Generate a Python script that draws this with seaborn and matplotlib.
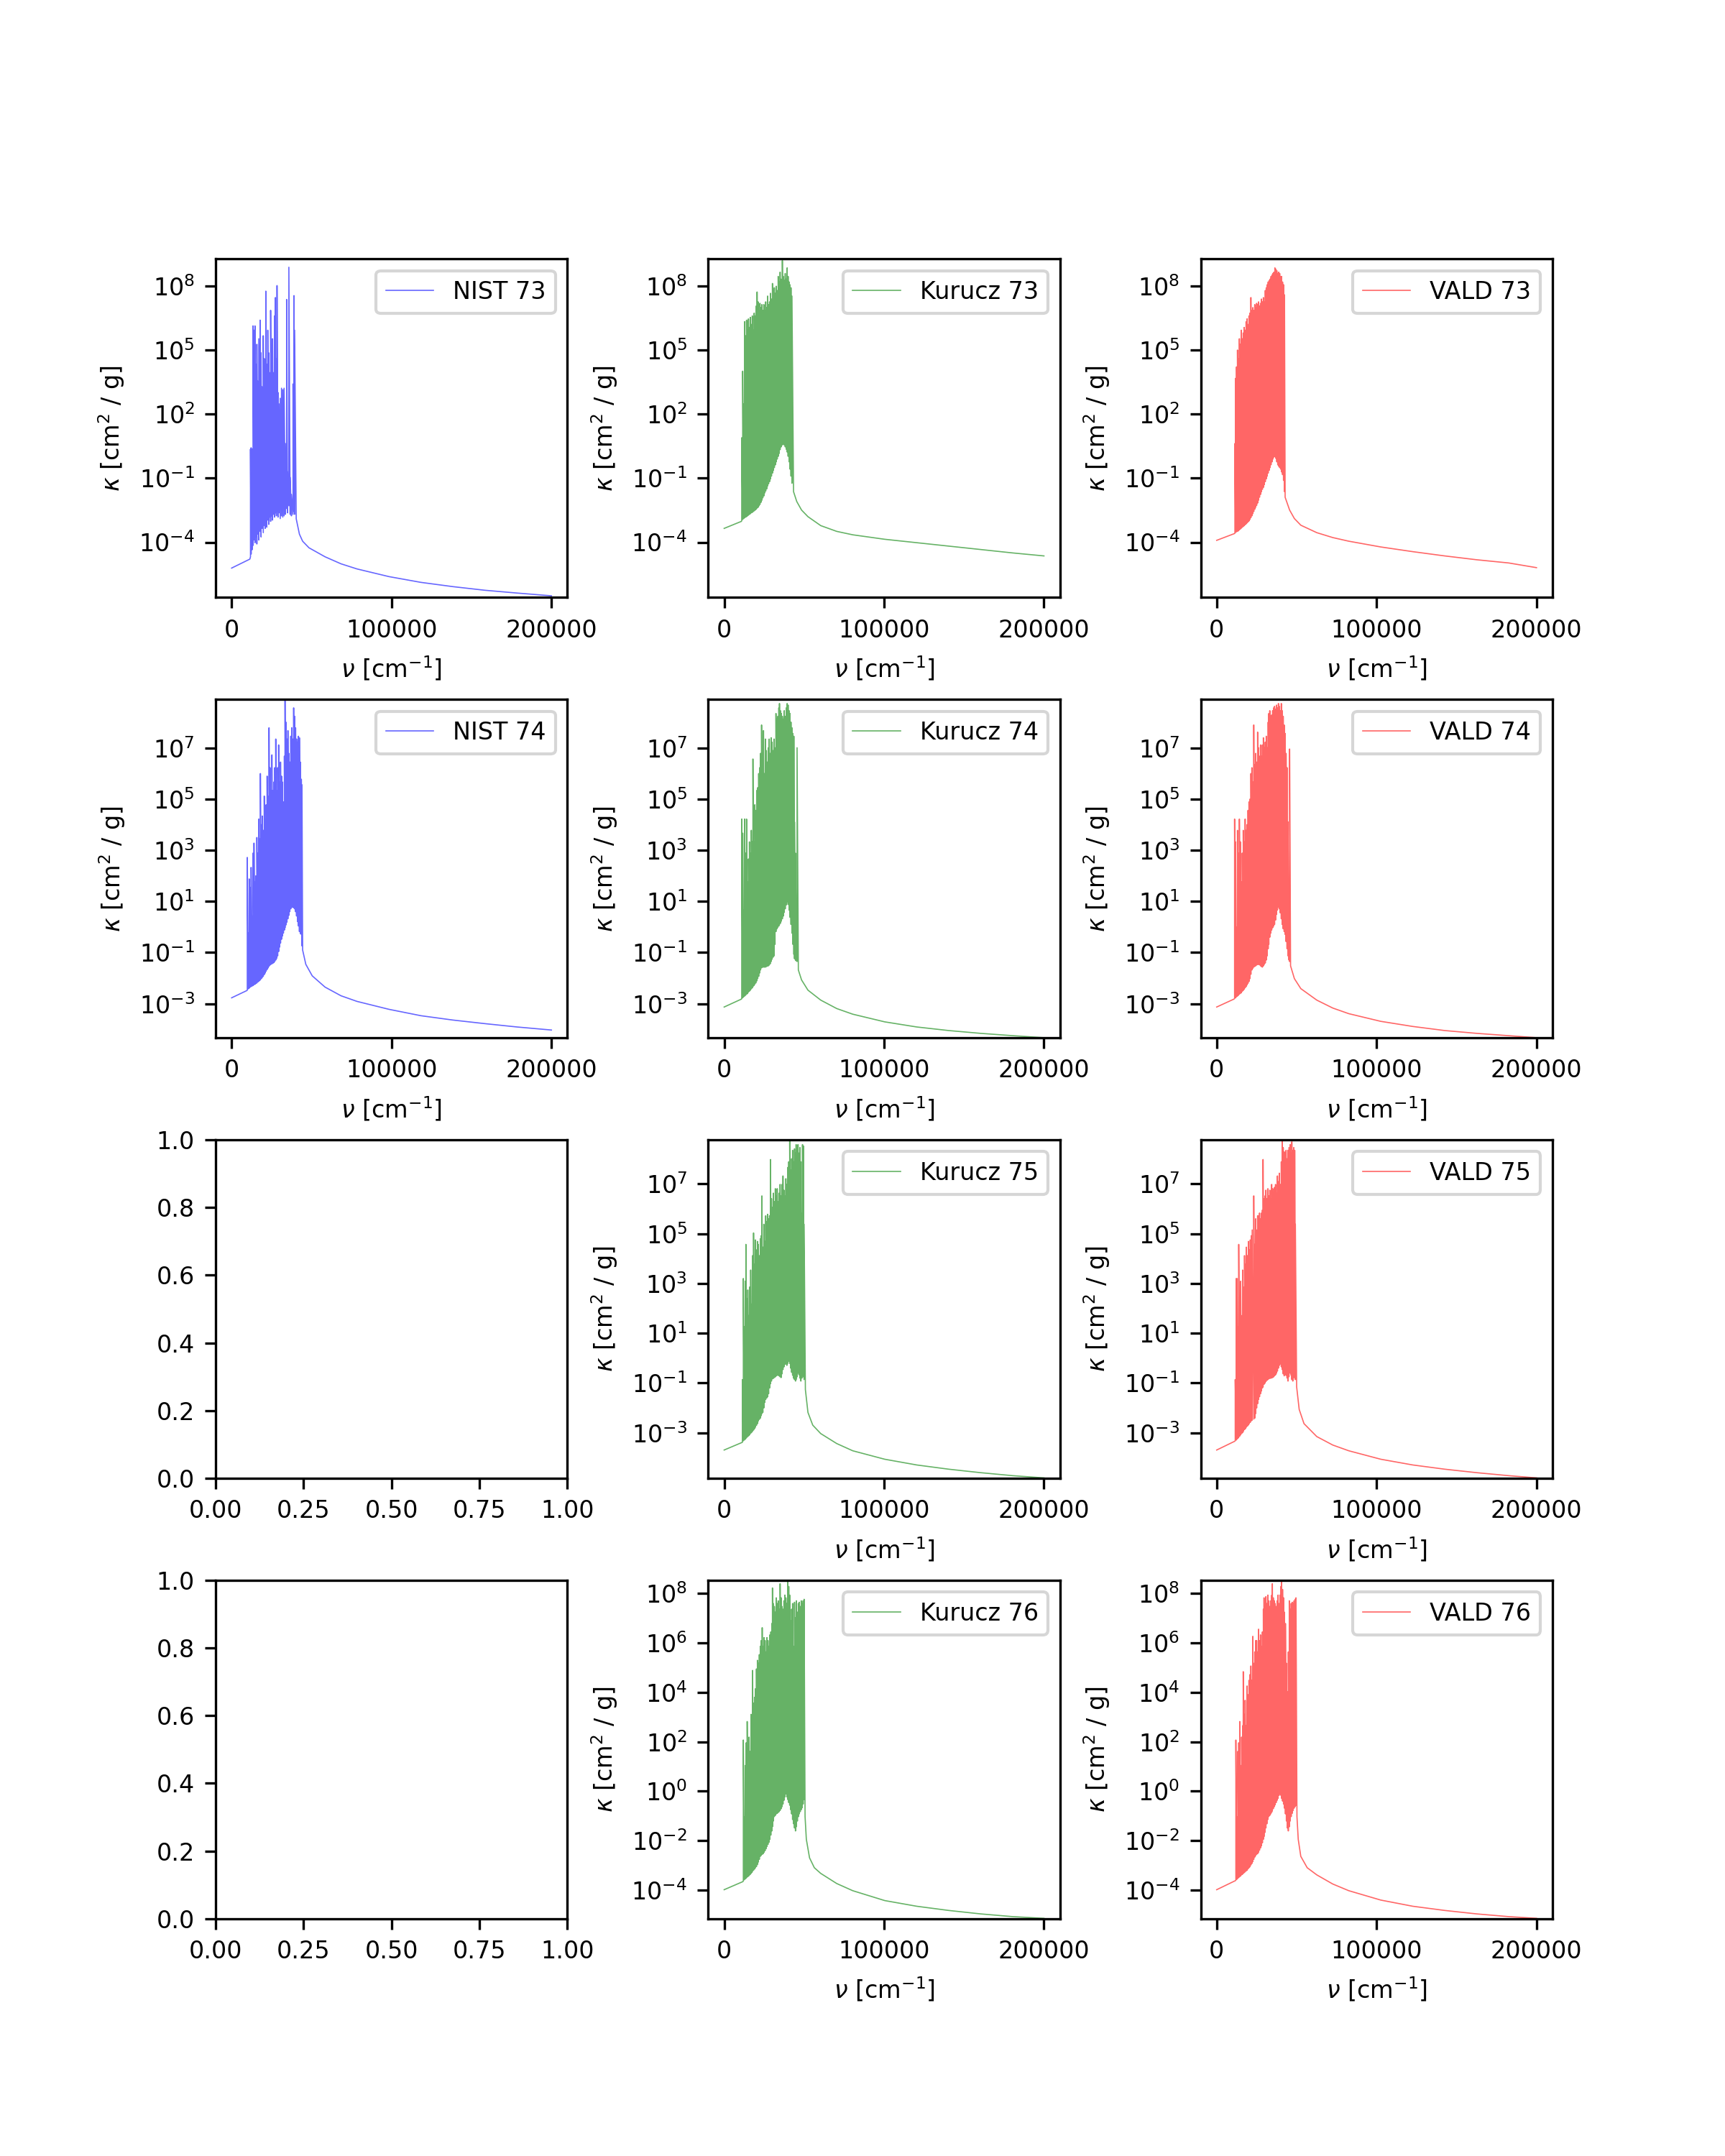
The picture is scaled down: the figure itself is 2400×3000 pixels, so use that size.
import numpy as np
import matplotlib
matplotlib.use("Agg")
import matplotlib.pyplot as plt
import seaborn as sns

# ---------------- data (nu in cm^-1, log10 kappa in cm^2/g) ----------------
# NIST 73
nist73_pre_nu = [0, 11400]
nist73_pre_lk = [-5.21, -4.79]
nist73_nu = [11800,12200,12800,13400,14000,14600,15200,15800,16400,17000,17800,18400,19000,19800,20400,21000,21400,22000,22600,23200,23800,24400,25000,25600,26200,26800,27400,28000,28400,29000,29600,30400,31200,32000,32800,33600,34400,35000,35800,36600,37400,38400,39000,39400]
nist73_hi = [0.36,0.43,0.36,6.14,5.94,6.14,4.35,5.28,3.55,5.54,6.41,4.88,3.29,5.68,4.61,3.02,7.77,4.35,5.94,4.88,3.95,6.87,4.61,5.54,3.95,6.61,7.47,4.61,8.03,3.02,2.49,2.75,3.22,3.15,3.22,0.63,7.38,-0.70,8.89,-0.96,-1.76,3.42,7.56,5.94]
nist73_lo = [-4.68,-4.55,-4.35,-4.15,-3.89,-4.02,-3.75,-4.08,-3.62,-3.89,-3.49,-3.75,-3.35,-3.55,-3.22,-3.35,-3.09,-3.29,-2.96,-3.16,-2.82,-3.02,-2.76,-2.96,-2.69,-2.82,-2.62,-2.76,-2.56,-2.82,-2.62,-2.89,-2.76,-2.82,-2.76,-2.69,-2.42,-2.62,-2.29,-2.69,-2.76,-2.69,-2.56,-2.69]
nist73_post_nu = [40400,42400,44400,48400,58400,68400,78400,98400,118400,138400,158400,178400,200000]
nist73_post_lk = [-2.9,-3.62,-3.95,-4.26,-4.68,-5.01,-5.25,-5.61,-5.88,-6.08,-6.25,-6.38,-6.51]

# Kurucz 73
kur73_pre_nu = [0, 10800]
kur73_pre_lk = [-3.35, -3.02]
kur73_nu = [11000,11600,12200,12800,13400,14000,14600,15200,15800,16400,17000,17600,18200,18800,19400,20000,20600,21200,21800,22400,23000,23600,24200,24800,25400,26000,26600,27200,27800,28400,29000,29600,30200,30800,31400,32000,32600,33200,33800,34400,35000,35600,36400,37000,37600,38200,38800,39400,40000,40600,41200,41800,42400]
kur73_hi = [0.9,4.02,2.49,6.34,5.68,6.41,5.94,6.47,6.07,6.54,6.21,6.61,5.94,6.74,6.61,7.07,7.73,7.27,6.87,7.2,7.0,7.14,6.87,7.14,6.87,7.27,7.0,7.54,7.14,7.27,7.67,7.4,8.13,7.8,7.93,7.67,8.0,7.8,8.46,8.2,8.66,8.33,9.2,8.46,8.27,8.6,8.33,8.86,8.46,8.2,8.07,7.93,7.54]
kur73_lo = [-2.98,-2.93,-2.89,-2.85,-2.82,-2.80,-2.76,-2.73,-2.69,-2.66,-2.62,-2.60,-2.56,-2.53,-2.49,-2.45,-2.40,-2.36,-2.29,-2.23,-2.13,-2.03,-1.92,-1.83,-1.69,-1.60,-1.50,-1.36,-1.26,-1.16,-1.03,-0.90,-0.76,-0.63,-0.50,-0.37,-0.23,-0.10,0.03,0.16,0.34,0.47,0.56,0.60,0.56,0.47,0.36,0.23,0.03,-0.23,-0.57,-0.90,-1.23]
kur73_post_nu = [43400,45400,48400,52400,60400,70400,80400,100400,120400,140400,160400,180400,200000]
kur73_post_lk = [-1.63,-2.09,-2.49,-2.8,-3.22,-3.49,-3.65,-3.86,-4.02,-4.18,-4.34,-4.5,-4.64]

# VALD 73
vald73_pre_nu = [0, 11200]
vald73_pre_lk = [-3.91, -3.59]
vald73_nu = [11400,11800,12400,13000,13600,14200,14800,15400,16000,16600,17200,17800,18400,19000,19600,20200,20800,21400,22000,22600,23200,23800,24400,25000,25600,26200,26800,27400,28000,28600,29200,29800,30400,31000,31600,32200,32800,33400,34000,34600,35200,35800,36400,37000,37600,38200,38800,39400,40000,40600,41200,41800,42400]
vald73_hi = [0.63,3.68,4.22,5.01,4.61,5.54,5.28,5.94,5.54,5.81,6.07,5.94,6.34,6.47,6.21,6.61,6.74,7.47,6.87,7.0,6.87,7.14,7.0,7.2,7.14,7.27,7.07,7.2,7.4,7.27,7.47,7.27,7.8,7.93,8.07,8.2,8.27,8.33,8.46,8.53,8.6,8.66,8.86,8.8,8.73,8.6,8.66,8.6,8.46,8.46,8.2,8.07,7.6]
vald73_lo = [-3.57,-3.54,-3.51,-3.49,-3.46,-3.42,-3.38,-3.34,-3.30,-3.26,-3.22,-3.18,-3.14,-3.09,-3.05,-3.00,-2.93,-2.85,-2.76,-2.66,-2.56,-2.45,-2.36,-2.27,-2.16,-2.03,-1.89,-1.76,-1.63,-1.52,-1.43,-1.30,-1.16,-1.03,-0.90,-0.76,-0.63,-0.50,-0.37,-0.23,-0.10,-0.01,0.03,-0.06,-0.23,-0.37,-0.43,-0.50,-0.57,-0.70,-0.83,-1.10,-1.63]
vald73_post_nu = [42800,45600,48600,52600,62600,72600,82600,102600,122600,142600,162600,182600,200000]
vald73_post_lk = [-1.89,-2.49,-2.89,-3.2,-3.55,-3.78,-3.95,-4.22,-4.44,-4.64,-4.82,-4.97,-5.19]

# NIST 74
nist74_pre_nu = [0, 9400]
nist74_pre_lk = [-2.77, -2.49]
nist74_nu = [9800,10400,11000,11600,12200,12800,13400,14000,14600,15200,15800,16400,17000,17600,18000,18600,19200,19800,20400,21000,21600,22200,22800,23400,24000,24600,25200,25800,26400,27000,27600,28200,28800,29400,30000,30600,31200,31800,32400,33000,33400,34000,34600,35200,35800,36400,37000,37600,38200,38800,39400,40000,40600,41200,41800,42400,43000,43600,44000]
nist74_hi = [2.72,-0.24,1.88,1.55,2.33,0.43,2.89,3.28,1.77,2.0,3.5,2.89,4.22,3.44,6.0,4.0,4.34,3.78,5.12,4.22,4.78,5.9,5.12,7.79,6.23,5.34,6.73,5.34,5.67,6.23,7.35,5.34,6.23,7.12,5.67,6.45,5.9,5.67,4.89,6.68,8.91,8.01,7.35,7.68,6.79,6.45,7.46,7.79,7.35,8.57,8.24,7.79,7.35,7.23,7.46,7.4,6.45,5.78,5.56]
nist74_lo = [-2.47,-2.42,-2.39,-2.35,-2.33,-2.31,-2.29,-2.26,-2.24,-2.21,-2.19,-2.15,-2.12,-2.09,-2.05,-2.02,-1.97,-1.93,-1.86,-1.80,-1.73,-1.66,-1.60,-1.54,-1.49,-1.46,-1.44,-1.42,-1.39,-1.35,-1.29,-1.22,-1.13,-0.96,-0.79,-0.63,-0.48,-0.35,-0.24,-0.12,-0.03,0.08,0.19,0.32,0.46,0.60,0.71,0.77,0.77,0.75,0.71,0.60,0.43,0.21,0.04,-0.18,-0.26,-0.29,-0.74]
nist74_post_nu = [44400,46400,50400,58400,68400,78400,98400,118400,138400,158400,178400,200000]
nist74_post_lk = [-0.9,-1.46,-1.91,-2.35,-2.69,-2.91,-3.22,-3.47,-3.64,-3.78,-3.91,-4.03]

# Kurucz 74
kur74_pre_nu = [0, 10800]
kur74_pre_lk = [-3.13, -2.82]
kur74_nu = [11000,11600,12200,12800,13400,14000,14600,15200,15800,16400,17000,17600,18000,18600,19200,19800,20400,21000,21600,22200,22800,23400,24000,24600,25200,25800,26400,27000,27600,28200,28800,29400,30000,30600,31200,31800,32400,33000,33600,34200,34600,35200,35800,36400,37000,37600,38200,38800,39400,40000,40600,41200,41800,42400,43000,43600,44000,44600,45200,45600]
kur74_hi = [4.22,3.67,0.66,4.22,2.89,4.22,1.77,2.66,3.33,2.89,3.78,3.33,6.57,3.33,4.78,4.56,5.34,5.45,6.0,6.23,6.79,7.9,6.79,7.68,6.0,7.35,6.9,6.45,7.01,7.35,6.79,7.4,7.23,6.9,7.35,7.01,8.35,8.13,8.24,8.57,8.74,8.46,8.35,8.24,8.13,8.46,8.24,8.57,8.74,8.68,8.46,8.35,8.01,7.79,7.57,7.46,4.11,2.89,0.66,7.01]
kur74_lo = [-2.80,-2.77,-2.73,-2.70,-2.67,-2.63,-2.60,-2.55,-2.51,-2.47,-2.42,-2.38,-2.33,-2.29,-2.24,-2.19,-2.11,-2.02,-1.93,-1.80,-1.68,-1.60,-1.57,-1.57,-1.57,-1.57,-1.55,-1.53,-1.52,-1.49,-1.44,-1.35,-1.26,-1.18,-1.13,-0.68,-0.18,-0.07,-0.01,0.04,0.10,0.15,0.23,0.32,0.43,0.57,0.71,0.86,0.99,0.88,0.66,0.38,0.10,-0.24,-0.68,-1.07,-1.24,-1.30,-1.33,-1.35]
kur74_post_nu = [46400,48400,52400,60400,70400,80400,100400,120400,140400,160400,180400,200000]
kur74_post_lk = [-1.68,-2.07,-2.47,-2.86,-3.19,-3.41,-3.71,-3.91,-4.05,-4.16,-4.25,-4.33]

# VALD 74
vald74_pre_nu = [0, 10800]
vald74_pre_lk = [-3.13, -2.82]
vald74_nu = [11200,11800,12400,13000,13600,14200,14800,15400,16000,16600,17200,17800,18400,19000,19600,20200,20800,21400,22000,22600,23200,23800,24400,25000,25600,26200,26800,27400,28000,28600,29200,29800,30400,31000,31600,32200,32600,33200,33800,34400,35000,35600,36200,36800,37400,38000,38600,39200,39800,40400,41000,41600,42200,42800,43400,44000,44600,45200,45600]
vald74_hi = [4.22,3.33,-0.01,3.78,2.89,4.22,3.33,1.77,2.89,3.78,3.33,4.22,3.78,4.0,4.56,4.89,5.0,6.0,6.23,5.67,7.9,6.34,6.79,6.45,7.62,7.01,6.68,7.12,6.68,7.12,7.4,7.01,7.23,7.46,7.01,8.01,8.35,8.46,8.24,8.29,8.46,8.57,8.63,8.52,8.68,8.57,8.74,8.63,8.46,8.74,8.46,8.24,7.9,7.57,6.79,6.23,4.11,1.77,6.96]
vald74_lo = [-2.80,-2.77,-2.73,-2.70,-2.67,-2.63,-2.60,-2.57,-2.52,-2.48,-2.43,-2.38,-2.33,-2.26,-2.20,-2.13,-2.02,-1.85,-1.68,-1.62,-1.57,-1.54,-1.52,-1.49,-1.47,-1.46,-1.48,-1.52,-1.55,-1.57,-1.52,-1.46,-1.41,-1.29,-1.13,-0.85,-0.68,-0.40,-0.24,-0.12,-0.03,0.04,0.10,0.27,0.49,0.66,0.77,0.71,0.55,0.32,0.10,-0.07,-0.18,-0.29,-0.57,-0.85,-1.13,-1.29,-1.35]
vald74_post_nu = [46200,48600,52600,62600,72600,82600,102600,122600,142600,162600,182600,200000]
vald74_post_lk = [-1.52,-2.02,-2.41,-2.86,-3.17,-3.39,-3.69,-3.89,-4.05,-4.16,-4.25,-4.33]

# Kurucz 75
kur75_pre_nu = [0, 11400]
kur75_pre_lk = [-3.69, -3.38]
kur75_nu = [11400,12000,12600,13200,13600,14200,14800,15400,16000,16600,17200,17800,18400,19000,19600,20200,20800,21400,22000,22600,23200,23600,24200,24800,25400,26000,26600,27200,27800,28400,29000,29600,30200,30800,31400,32000,32600,33200,33800,34400,35000,35600,36200,36800,37400,38000,38600,39200,39800,40400,41000,41600,42200,42800,43400,44000,44600,45000,45600,46200,46800,47400,48000,48600,49000,49600,50000]
kur75_hi = [-0.86,3.2,1.26,3.09,4.57,2.4,2.74,1.71,2.86,3.54,2.17,4.12,5.03,3.77,4.75,4.35,4.69,4.57,4.12,4.8,4.92,6.52,4.46,5.38,4.69,5.72,5.49,5.78,5.6,5.72,7.98,6.41,6.06,6.63,6.29,6.81,6.52,6.81,6.29,6.63,6.98,6.52,6.98,7.32,6.75,6.52,7.21,6.98,7.66,7.89,8.81,7.55,8.01,8.35,7.89,8.41,8.24,8.58,8.12,8.58,8.24,8.46,7.89,5.83,8.58,8.52,5.38]
kur75_lo = [-3.35,-3.32,-3.29,-3.25,-3.22,-3.18,-3.15,-3.11,-3.07,-3.02,-2.98,-2.93,-2.89,-2.83,-2.77,-2.70,-2.63,-2.52,-2.46,-2.41,-2.31,-2.23,-2.18,-2.00,-1.78,-1.66,-1.60,-1.55,-1.43,-1.20,-1.03,-0.92,-0.83,-0.81,-0.78,-0.75,-0.71,-0.69,-0.69,-0.71,-0.75,-0.78,-0.63,-0.46,-0.35,-0.25,-0.23,-0.29,-0.21,-0.12,-0.21,-0.40,-0.57,-0.69,-0.80,-0.86,-0.92,-0.86,-0.75,-0.60,-0.67,-0.80,-0.92,-0.80,-0.69,-0.75,-0.86]
kur75_post_nu = [50800,52400,55400,60400,70400,80400,100400,120400,140400,160400,180400,200000]
kur75_post_lk = [-1.26,-2.18,-2.69,-3.03,-3.43,-3.72,-4.06,-4.29,-4.46,-4.6,-4.72,-4.81]

# VALD 75
vald75_pre_nu = [0, 11200]
vald75_pre_lk = [-3.69, -3.34]
vald75_nu = [11600,12200,12800,13400,13800,14400,15000,15600,16200,16800,17400,18000,18600,19200,19800,20400,21000,21600,22200,23200,23800,24400,25000,25600,26200,26800,27400,28000,28600,29000,29600,30200,30800,31400,32000,32600,33200,33800,34400,35000,35600,36200,36800,37400,38000,38600,39200,39800,40400,41000,41600,42200,42800,43400,44000,44600,45200,46000,46600,47000,47600,48200,48800,49200]
vald75_hi = [-0.86,3.2,3.2,1.26,4.57,2.4,3.09,1.71,3.54,2.86,4.12,3.77,4.46,4.12,4.69,4.35,4.75,4.92,5.15,6.52,4.57,5.6,5.15,5.72,5.72,5.83,5.6,5.83,5.95,7.98,6.41,6.52,6.75,6.41,6.81,6.52,6.75,6.41,6.98,6.81,6.63,6.86,6.98,6.63,7.32,7.09,7.43,6.98,7.89,8.75,8.46,8.29,8.01,8.35,8.01,8.35,8.46,8.58,8.24,8.69,8.35,8.46,8.35,5.38]
vald75_lo = [-3.32,-3.29,-3.25,-3.21,-3.17,-3.13,-3.08,-3.03,-2.99,-2.93,-2.87,-2.83,-2.77,-2.73,-2.68,-2.63,-2.58,-2.52,-2.49,-2.45,-2.41,-2.23,-2.00,-1.83,-1.66,-1.55,-1.43,-1.32,-1.20,-1.15,-1.05,-1.00,-0.94,-0.89,-0.86,-0.83,-0.81,-0.81,-0.79,-0.78,-0.75,-0.71,-0.67,-0.60,-0.52,-0.40,-0.29,-0.23,-0.35,-0.46,-0.63,-0.71,-0.57,-0.69,-0.80,-0.92,-0.75,-0.60,-0.69,-0.86,-0.92,-0.75,-0.80,-0.86]
vald75_post_nu = [50000,51600,54600,62600,72600,82600,102600,122600,142600,162600,182600,200000]
vald75_post_lk = [-1.15,-2.06,-2.63,-3.15,-3.49,-3.72,-4.06,-4.29,-4.46,-4.6,-4.72,-4.81]

# Kurucz 76
kur76_pre_nu = [0, 11800]
kur76_pre_lk = [-3.99, -3.66]
kur76_nu = [12000,12600,13200,13800,14400,15000,15600,16200,16800,17400,17800,18400,19000,19600,20200,20800,21400,22000,22600,23200,23800,24400,25000,25600,26200,26800,27400,28000,28600,29200,29800,30200,30800,31400,32000,32600,33200,33800,34400,35000,35600,36200,36800,37400,38000,38600,39200,39800,40400,41000,41600,42200,42800,43400,44000,44600,45200,45800,46400,47000,47600,48200,48800,49400,50000]
kur76_hi = [2.07,-1.03,1.04,1.96,2.82,1.04,2.19,1.61,3.11,2.42,4.89,3.57,3.8,4.15,4.95,5.3,5.18,5.53,5.87,6.1,6.62,5.87,6.22,6.1,5.64,6.22,6.1,5.87,6.33,6.45,6.79,8.23,7.6,7.48,7.25,7.83,7.6,7.71,7.37,8.4,7.83,7.48,7.37,7.71,7.94,7.83,7.6,8.58,8.29,7.94,6.91,7.37,7.6,5.87,7.65,7.02,7.71,7.25,7.6,7.65,7.48,7.71,7.6,7.71,7.77]
kur76_lo = [-3.62,-3.59,-3.55,-3.52,-3.48,-3.45,-3.42,-3.38,-3.33,-3.29,-3.24,-3.20,-3.15,-3.10,-3.05,-2.97,-2.87,-2.76,-2.64,-2.60,-2.56,-2.53,-2.47,-2.41,-2.33,-2.24,-2.16,-2.07,-1.95,-1.78,-1.61,-1.44,-1.21,-1.03,-0.98,-0.92,-0.90,-0.86,-0.83,-0.78,-0.71,-0.63,-0.52,-0.37,-0.23,-0.11,-0.23,-0.34,-0.46,-0.57,-0.75,-0.92,-1.15,-1.32,-1.49,-1.61,-1.44,-1.21,-1.03,-0.92,-0.83,-0.75,-0.67,-0.52,-0.34]
kur76_post_nu = [50600,51400,53400,56400,60400,70400,80400,100400,120400,140400,160400,180400,200000]
kur76_post_lk = [-1.03,-1.95,-2.7,-3.1,-3.33,-3.74,-4.03,-4.43,-4.66,-4.83,-4.97,-5.08,-5.15]

# VALD 76
vald76_pre_nu = [0, 11800]
vald76_pre_lk = [-3.99, -3.62]
vald76_nu = [12000,12600,13200,13800,14400,15000,15600,16200,16600,17200,17800,18400,19000,19600,20200,20800,21400,22000,22600,23200,23800,24400,25000,25600,26200,26800,27400,28000,28600,29200,29600,30200,30800,31400,32000,32600,33200,33800,34400,34800,35400,36000,36600,37200,37800,38400,39000,39600,40200,40600,41200,41800,42400,43000,43600,44200,44800,45400,46000,46600,47200,47800,48400,49000,49600]
vald76_hi = [2.07,-1.03,1.61,1.96,2.82,1.04,2.19,2.65,4.84,3.11,3.68,2.65,4.26,3.91,4.49,4.72,5.07,4.49,6.27,5.18,5.64,6.1,6.1,5.64,6.56,6.1,6.33,5.87,6.45,7.37,7.83,7.48,7.88,7.6,7.94,7.71,7.48,7.71,7.94,8.4,7.83,7.71,7.6,7.48,7.71,7.94,7.6,7.94,8.29,8.52,8.17,7.83,7.25,6.79,5.18,4.03,5.64,7.71,7.37,7.6,7.65,7.6,7.71,7.77,7.83]
vald76_lo = [-3.60,-3.57,-3.53,-3.50,-3.46,-3.43,-3.39,-3.36,-3.33,-3.30,-3.27,-3.23,-3.20,-3.15,-3.10,-3.06,-2.99,-2.93,-2.85,-2.76,-2.67,-2.61,-2.56,-2.53,-2.47,-2.39,-2.30,-2.21,-2.09,-1.95,-1.84,-1.67,-1.49,-1.32,-1.15,-1.03,-0.98,-0.92,-0.86,-0.80,-0.71,-0.63,-0.55,-0.46,-0.37,-0.29,-0.17,-0.11,-0.17,-0.29,-0.40,-0.52,-0.69,-0.92,-1.21,-1.49,-1.61,-1.44,-1.21,-1.03,-0.90,-0.78,-0.69,-0.63,-0.57]
vald76_post_nu = [50200,51000,52600,56600,62600,72600,82600,102600,122600,142600,162600,182600,200000]
vald76_post_lk = [-1.03,-1.95,-2.64,-3.1,-3.39,-3.76,-4.03,-4.41,-4.66,-4.83,-4.97,-5.08,-5.15]

# y-axis limits per row (log10 kappa)
row_ylim_log = [(-6.59, 9.29), (-4.34, 8.91), (-4.83, 8.78), (-5.17, 8.55)]

# ---------------- assemble ----------------
def build(pre_nu, pre_lk, f_nu, f_hi, f_lo, post_nu, post_lk):
    xs = list(pre_nu)
    ys = list(pre_lk)
    for n, h, l in zip(f_nu, f_hi, f_lo):
        xs += [n, n]
        ys += [l, h]
    xs += list(post_nu)
    ys += list(post_lk)
    return np.array(xs, dtype=float), 10.0 ** np.array(ys)

spectra = {
    (0, 0): ("NIST 73", "b", build(nist73_pre_nu, nist73_pre_lk, nist73_nu, nist73_hi, nist73_lo, nist73_post_nu, nist73_post_lk)),
    (0, 1): ("Kurucz 73", "g", build(kur73_pre_nu, kur73_pre_lk, kur73_nu, kur73_hi, kur73_lo, kur73_post_nu, kur73_post_lk)),
    (0, 2): ("VALD 73", "r", build(vald73_pre_nu, vald73_pre_lk, vald73_nu, vald73_hi, vald73_lo, vald73_post_nu, vald73_post_lk)),
    (1, 0): ("NIST 74", "b", build(nist74_pre_nu, nist74_pre_lk, nist74_nu, nist74_hi, nist74_lo, nist74_post_nu, nist74_post_lk)),
    (1, 1): ("Kurucz 74", "g", build(kur74_pre_nu, kur74_pre_lk, kur74_nu, kur74_hi, kur74_lo, kur74_post_nu, kur74_post_lk)),
    (1, 2): ("VALD 74", "r", build(vald74_pre_nu, vald74_pre_lk, vald74_nu, vald74_hi, vald74_lo, vald74_post_nu, vald74_post_lk)),
    (2, 1): ("Kurucz 75", "g", build(kur75_pre_nu, kur75_pre_lk, kur75_nu, kur75_hi, kur75_lo, kur75_post_nu, kur75_post_lk)),
    (2, 2): ("VALD 75", "r", build(vald75_pre_nu, vald75_pre_lk, vald75_nu, vald75_hi, vald75_lo, vald75_post_nu, vald75_post_lk)),
    (3, 1): ("Kurucz 76", "g", build(kur76_pre_nu, kur76_pre_lk, kur76_nu, kur76_hi, kur76_lo, kur76_post_nu, kur76_post_lk)),
    (3, 2): ("VALD 76", "r", build(vald76_pre_nu, vald76_pre_lk, vald76_nu, vald76_hi, vald76_lo, vald76_post_nu, vald76_post_lk)),
}

plt.rcParams['font.family'] = ['DejaVu Sans']
plt.rcParams['font.size'] = 8
fig, axes = plt.subplots(4, 3, figsize=(8, 10), dpi=300)
plt.subplots_adjust(left=0.125, right=0.9, bottom=0.11, top=0.88, wspace=0.4, hspace=0.3)

for (r, c), (label, color, (x, y)) in spectra.items():
    ax = axes[r, c]
    sns.lineplot(x=x, y=y, ax=ax, sort=False, estimator=None, color=color,
                 alpha=0.6, lw=0.4, label=label)
    ax.set_yscale('log')
    lo, hi = row_ylim_log[r]
    ax.set_ylim(10 ** lo, 10 ** hi)
    ax.minorticks_off()
    ax.set_xlabel(r'$\nu$ [cm$^{-1}$]')
    ax.set_ylabel(r'$\kappa$ [cm$^2$ / g]')
    ax.legend(loc='upper right')

fig.savefig("out.png", dpi=300)
